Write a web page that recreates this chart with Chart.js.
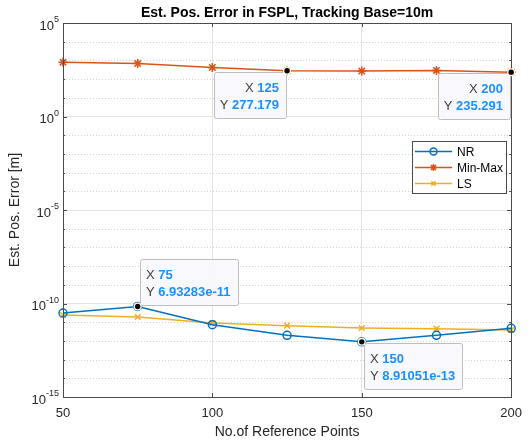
<!DOCTYPE html>
<html>
<head>
<meta charset="utf-8">
<script src="https://cdn.jsdelivr.net/npm/chart.js@4"></script>
<style>
  html, body { margin: 0; padding: 0; background: #fff; }
</style>
</head>
<body>
<div style="width:531px;height:442px"><canvas id="posErr"></canvas></div>
<script>
// data
var refPoints = [50, 75, 100, 125, 150, 175, 200];
var nrErr = [3.1e-11, 6.93283e-11, 7.4e-12, 2.0e-12, 8.91051e-13, 2.0e-12, 4.7e-12];
var minMaxErr = [800, 680, 420, 277.179, 270, 290, 235.291];
var lsErr = [2.4e-11, 1.9e-11, 9.0e-12, 6.5e-12, 4.9e-12, 4.5e-12, 3.8e-12];
var seriesNames = ['NR', 'Min-Max', 'LS'];

var xTicks = [50, 100, 150, 200];
var yDecades = [-15, -14, -13, -12, -11, -10, -9, -8, -7, -6, -5, -4, -3, -2, -1, 0, 1, 2, 3, 4, 5];
var yMajorExp = [-15, -10, -5, 0, 5];

// data tips: series index, point index, where the box sits
var dataTips = [
    { ds: 1, idx: 3, place: 'lowerLeft' },
    { ds: 1, idx: 6, place: 'lowerLeft' },
    { ds: 0, idx: 1, place: 'upperRight' },
    { ds: 0, idx: 4, place: 'lowerRight' }
];

var FONT = "'Liberation Sans', Arial, Helvetica, sans-serif";
var colors = ['#0072BD', '#D95319', '#EDB120'];
var styles = ['circle', 'star', 'crossRot'];

function toXY(vals) {
    return refPoints.map(function(x, i) { return { x: x, y: vals[i] }; });
}

function makeSet(i, vals, radius) {
    return {
        label: seriesNames[i],
        data: toXY(vals),
        borderColor: colors[i],
        backgroundColor: colors[i],
        borderWidth: 1.5,
        pointStyle: styles[i],
        pointRadius: radius,
        pointHoverRadius: radius,
        pointBorderWidth: 1.5,
        pointBorderColor: colors[i],
        pointBackgroundColor: 'rgba(0,0,0,0)',
        tension: 0,
        clip: false
    };
}

function isMajor(v) {
    var e = Math.round(Math.log10(v));
    return yMajorExp.indexOf(e) >= 0;
}

function drawMarker(ctx, style, x, y, r, color) {
    ctx.save();
    ctx.strokeStyle = color;
    ctx.lineWidth = 1.5;
    ctx.beginPath();
    if (style === 'circle') {
        ctx.arc(x, y, r, 0, Math.PI * 2);
    } else {
        var d = r * Math.SQRT1_2;
        ctx.moveTo(x - d, y - d); ctx.lineTo(x + d, y + d);
        ctx.moveTo(x - d, y + d); ctx.lineTo(x + d, y - d);
        if (style === 'star') {
            ctx.moveTo(x - r, y); ctx.lineTo(x + r, y);
            ctx.moveTo(x, y - r); ctx.lineTo(x, y + r);
        }
    }
    ctx.stroke();
    ctx.restore();
}

var framePlugin = {
    id: 'frame',
    beforeDatasetsDraw: function(chart) {
        var ctx = chart.ctx, a = chart.chartArea, ys = chart.scales.y;
        ctx.save();
        ctx.strokeStyle = '#d2d2d2';
        ctx.lineWidth = 1;
        ctx.setLineDash([1, 2]);
        yDecades.forEach(function(e) {
            if (yMajorExp.indexOf(e) >= 0) return;
            var py = Math.round(ys.getPixelForValue(Math.pow(10, e))) + 0.5;
            ctx.beginPath();
            ctx.moveTo(a.left, py);
            ctx.lineTo(a.right, py);
            ctx.stroke();
        });
        ctx.restore();
    },
    afterDatasetsDraw: function(chart) {
        var ctx = chart.ctx, a = chart.chartArea;
        var xs = chart.scales.x, ys = chart.scales.y;
        ctx.save();
        ctx.strokeStyle = '#4a4a4a';
        ctx.lineWidth = 1;
        ctx.strokeRect(Math.round(a.left) + 0.5, Math.round(a.top) + 0.5,
            Math.round(a.right - a.left), Math.round(a.bottom - a.top));
        // inward ticks
        ctx.beginPath();
        xTicks.forEach(function(v) {
            var px = Math.round(xs.getPixelForValue(v)) + 0.5;
            ctx.moveTo(px, a.bottom); ctx.lineTo(px, a.bottom - 4);
            ctx.moveTo(px, a.top); ctx.lineTo(px, a.top + 4);
        });
        yDecades.forEach(function(e) {
            var py = Math.round(ys.getPixelForValue(Math.pow(10, e))) + 0.5;
            var len = yMajorExp.indexOf(e) >= 0 ? 4 : 2;
            ctx.moveTo(a.left, py); ctx.lineTo(a.left + len, py);
            ctx.moveTo(a.right, py); ctx.lineTo(a.right - len, py);
        });
        ctx.stroke();

        // y tick labels as 10 with a raised exponent
        ctx.fillStyle = '#262626';
        ctx.textBaseline = 'middle';
        yMajorExp.forEach(function(e) {
            var py = ys.getPixelForValue(Math.pow(10, e));
            var ex = String(e);
            ctx.font = '9px ' + FONT;
            var we = ctx.measureText(ex).width;
            ctx.textAlign = 'right';
            ctx.fillText(ex, 59, py - 3);
            ctx.font = '13px ' + FONT;
            ctx.fillText('10', 59 - we, py + 3);
        });

        // title
        ctx.fillStyle = '#000';
        ctx.font = 'bold 14px ' + FONT;
        ctx.textAlign = 'center';
        ctx.textBaseline = 'middle';
        ctx.fillText('Est. Pos. Error in FSPL, Tracking Base=10m', (a.left + a.right) / 2, 13);

        // legend
        var lx = 412, ly = 141, lw = 94, lh = 52;
        ctx.fillStyle = '#fff';
        ctx.fillRect(lx, ly, lw, lh);
        ctx.strokeStyle = '#4a4a4a';
        ctx.strokeRect(lx + 0.5, ly + 0.5, lw, lh);
        ctx.font = '12px ' + FONT;
        ctx.textAlign = 'left';
        ctx.textBaseline = 'middle';
        seriesNames.forEach(function(name, i) {
            var ry = ly + 10.5 + i * 16;
            ctx.strokeStyle = colors[i];
            ctx.lineWidth = 1.5;
            ctx.beginPath();
            ctx.moveTo(lx + 3, ry); ctx.lineTo(lx + 40, ry);
            ctx.stroke();
            drawMarker(ctx, styles[i], lx + 21.5, ry, i === 2 ? 3 : 3.5, colors[i]);
            ctx.fillStyle = '#000';
            ctx.fillText(name, lx + 45, ry + 1);
        });

        // data tips
        dataTips.forEach(function(t) {
            var pt = chart.getDatasetMeta(t.ds).data[t.idx];
            var raw = chart.data.datasets[t.ds].data[t.idx];
            var px = pt.x, py = pt.y;
            var xVal = String(raw.x);
            var yVal = t.ds === 0 ? raw.y.toExponential(5) : String(raw.y);
            ctx.font = 'bold 13px ' + FONT;
            var wx = ctx.measureText(xVal).width, wy = ctx.measureText(yVal).width;
            ctx.font = '13px ' + FONT;
            var wl = ctx.measureText('Y ').width;
            var tw = wl + Math.max(wx, wy);
            var bw = Math.round(tw + 13), bh = 46;
            var bx, by;
            if (t.place === 'lowerLeft') { bx = px - 1 - bw; by = py + 1; }
            else if (t.place === 'upperRight') { bx = px + 2; by = py - 1 - bh; }
            else { bx = px + 2; by = py + 1; }
            bx = Math.round(bx); by = Math.round(by);
            ctx.fillStyle = 'rgba(249,249,253,0.96)';
            ctx.strokeStyle = '#bdbdbd';
            ctx.lineWidth = 1;
            ctx.beginPath();
            ctx.roundRect(bx + 0.5, by + 0.5, bw, bh, 2);
            ctx.fill();
            ctx.stroke();

            var lines = [['X ', xVal, wx], ['Y ', yVal, wy]];
            lines.forEach(function(l, k) {
                var ty = by + 16 + k * 17;
                var startX = t.place === 'lowerLeft' ? bx + bw - 7 - wl - l[2] : bx + 6;
                ctx.textAlign = 'left';
                ctx.font = '13px ' + FONT;
                ctx.fillStyle = '#404040';
                ctx.fillText(l[0], startX, ty);
                ctx.font = 'bold 13px ' + FONT;
                ctx.fillStyle = '#1a90ff';
                ctx.fillText(l[1], startX + wl, ty);
            });

            // highlighted point
            ctx.beginPath();
            ctx.arc(px, py, 4, 0, Math.PI * 2);
            ctx.fillStyle = '#fffbe3';
            ctx.fill();
            ctx.beginPath();
            ctx.arc(px, py, 2.7, 0, Math.PI * 2);
            ctx.fillStyle = '#000';
            ctx.fill();
        });
        ctx.restore();
    }
};

var config = {
    type: 'line',
    data: {
        datasets: [
            makeSet(0, nrErr, 4),
            makeSet(1, minMaxErr, 4.5),
            makeSet(2, lsErr, 4)
        ]
    },
    options: {
        responsive: true,
        maintainAspectRatio: false,
        animation: false,
        events: [],
        layout: { padding: { top: 23, right: 18, left: 0, bottom: 0 } },
        plugins: {
            legend: { display: false },
            title: { display: false },
            tooltip: { enabled: false }
        },
        scales: {
            x: {
                type: 'linear',
                min: 50,
                max: 200,
                afterBuildTicks: function(scale) {
                    scale.ticks = xTicks.map(function(v) { return { value: v }; });
                },
                afterFit: function(scale) { scale.height = 45; },
                grid: { color: '#e3e3e3', lineWidth: 1, drawTicks: false },
                border: { display: false },
                ticks: {
                    padding: 9,
                    color: '#262626',
                    font: { family: FONT, size: 13 },
                    maxRotation: 0
                },
                title: {
                    display: true,
                    text: 'No.of Reference Points',
                    color: '#262626',
                    font: { family: FONT, size: 14 },
                    padding: { top: 0, bottom: 1 }
                }
            },
            y: {
                type: 'logarithmic',
                min: 1e-15,
                max: 1e5,
                afterBuildTicks: function(scale) {
                    scale.ticks = yDecades.map(function(e) { return { value: Math.pow(10, e) }; });
                },
                afterFit: function(scale) { scale.width = 63; },
                grid: {
                    drawTicks: false,
                    lineWidth: 1,
                    color: function(c) {
                        if (!c.tick) return 'rgba(0,0,0,0)';
                        return isMajor(c.tick.value) ? '#e3e3e3' : 'rgba(0,0,0,0)';
                    }
                },
                border: { display: false },
                ticks: {
                    display: false,
                    autoSkip: false
                },
                title: {
                    display: true,
                    text: 'Est. Pos. Error [m]',
                    color: '#262626',
                    font: { family: FONT, size: 14 },
                    padding: { top: 7, bottom: 0 }
                }
            }
        }
    },
    plugins: [framePlugin]
};

window.onload = function() {
    var ctx = document.getElementById('posErr').getContext('2d');
    window.posErrChart = new Chart(ctx, config);
};
</script>
</body>
</html>
